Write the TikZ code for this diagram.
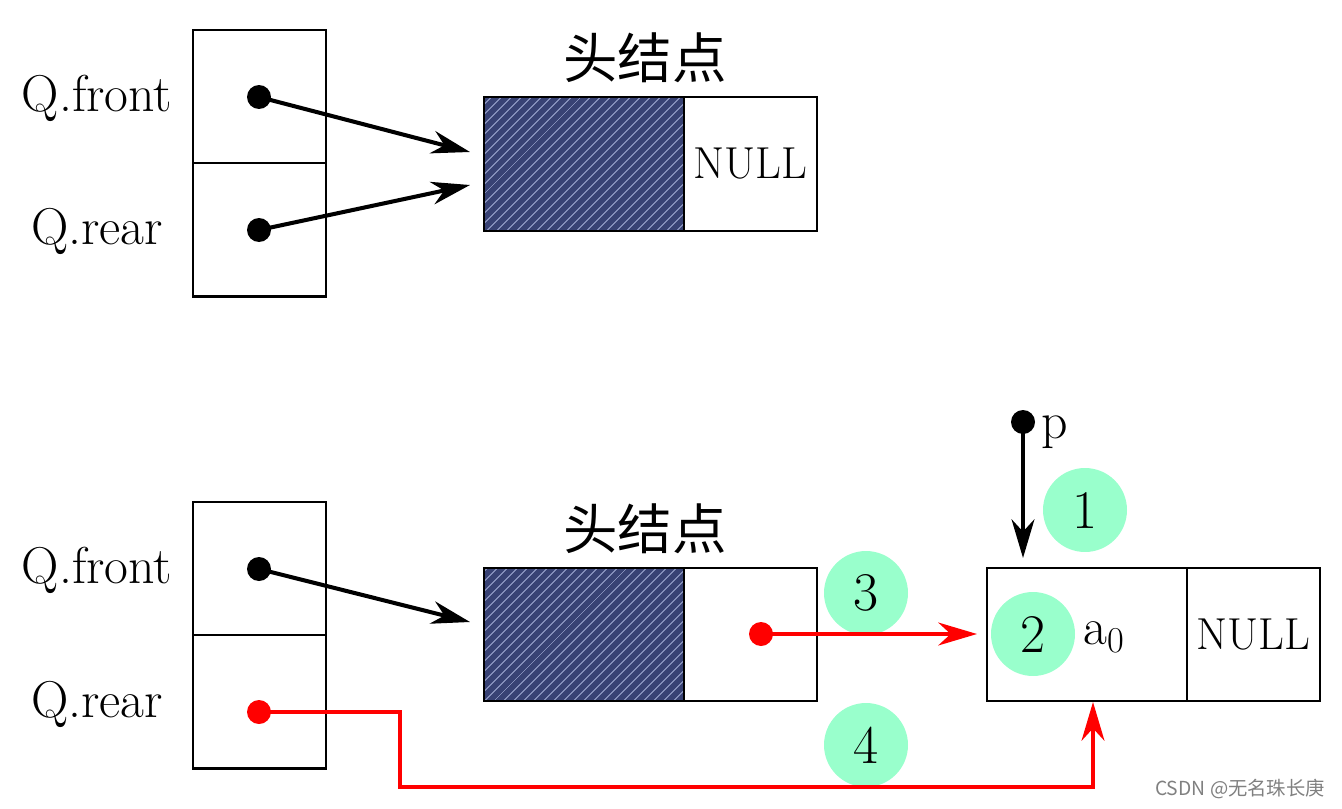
\documentclass[tikz,border=0pt]{standalone}
\usepackage{fontspec}
\newfontfamily\cjk{Noto Sans CJK SC}
\usetikzlibrary{positioning,arrows.meta,patterns.meta}
\definecolor{headblue}{RGB}{56,66,116}
\definecolor{hatchline}{RGB}{175,185,225}
\definecolor{stepgreen}{RGB}{153,255,204}

\begin{document}
\begin{tikzpicture}[x=0.02cm,y=-0.02cm,
        cell/.style={draw,line width=1.4pt,minimum width=2.66cm,minimum height=2.67cm,
            inner sep=0pt,outer sep=0pt},
        headcell/.style={cell,minimum width=4cm,preaction={fill=headblue},
            pattern={Lines[angle=45,distance=4pt,line width=0.5pt]},pattern color=hatchline},
        lbl/.style={font=\fontsize{29.5}{32}\selectfont},
        nulltext/.style={font=\fontsize{25.5}{28}\selectfont},
        title/.style={font=\cjk\fontsize{31}{34}\selectfont},
        dot/.style={circle,fill=black,minimum size=0.48cm,inner sep=0pt},
        reddot/.style={dot,fill=red},
        ptr/.style={line width=2.3pt,-{Stealth[length=22pt,width=13pt,inset=7pt]}},
        redptr/.style={ptr,red},
        stepmark/.style={circle,fill=stepgreen,minimum size=1.68cm,inner sep=0pt,
            font=\fontsize{31}{33}\selectfont}
    ]
    \useasboundingbox (0,0) rectangle (1342,808);

    % empty queue
    \node[cell] (front1) at (259.5,96.5) {};
    \node[cell,below=0pt of front1] (rear1) {};
    \node[lbl] (qf1) at (97,98) {Q.front};
    \node[lbl] (qr1) at (97,231) {Q.rear};
    \node[headcell] (head1) at (584,164) {};
    \node[cell,right=0pt of head1,nulltext] (null1) {NULL};
    \node[title] (title1) at (645,58) {头结点};
    \node[dot] (pf1) at (259,97) {};
    \node[dot] (pr1) at (259,230) {};
    \coordinate (tf1) at (470,152);
    \coordinate (tr1) at (470,185);
    \draw[ptr] (pf1.center) -- (tf1);
    \draw[ptr] (pr1.center) -- (tr1);

    % after inserting a0
    \node[cell] (front2) at (259.5,568.5) {};
    \node[cell,below=0pt of front2] (rear2) {};
    \node[lbl] (qf2) at (97,570) {Q.front};
    \node[lbl] (qr2) at (97,704) {Q.rear};
    \node[headcell] (head2) at (584,634.5) {};
    \node[cell,right=0pt of head2] (next2) {};
    \node[title] (title2) at (645,529) {头结点};
    \node[cell,minimum width=4cm] (new) at (1087,634.5) {};
    \node[cell,right=0pt of new,nulltext] (null3) {NULL};
    \node[lbl] (a0) at (1104,637) {a$_0$};

    \node[dot] (pf2) at (259,569) {};
    \node[reddot] (pr2) at (259,712) {};
    \node[reddot] (pn2) at (761,634) {};
    \node[dot] (p) at (1023,422) {};
    \node[lbl,right=0pt of p,yshift=-6pt] (plbl) {p};

    \coordinate (tf2) at (470,622);
    \coordinate (tn2) at (977,634);
    \coordinate (tp) at (1023,558);
    \coordinate (bend) at (400,787);
    \coordinate (tr2) at (1093,702);

    \node[stepmark] (s1) at (1085,510) {1};
    \node[stepmark] (s3) at (866,593) {3};
    \node[stepmark] (s2) at (1033,634) {2};
    \node[stepmark] (s4) at (866,745) {4};

    \draw[ptr] (pf2.center) -- (tf2);
    \draw[ptr] (p.center) -- (tp);
    \draw[redptr] (pn2.center) -- (tn2);
    \draw[redptr] (pr2.center) -| (bend) -| (tr2);

    \node[font=\cjk\fontsize{11}{12}\selectfont,text=gray] (mark) at (1240,789) {CSDN @无名珠长庚};
\end{tikzpicture}
\end{document}
